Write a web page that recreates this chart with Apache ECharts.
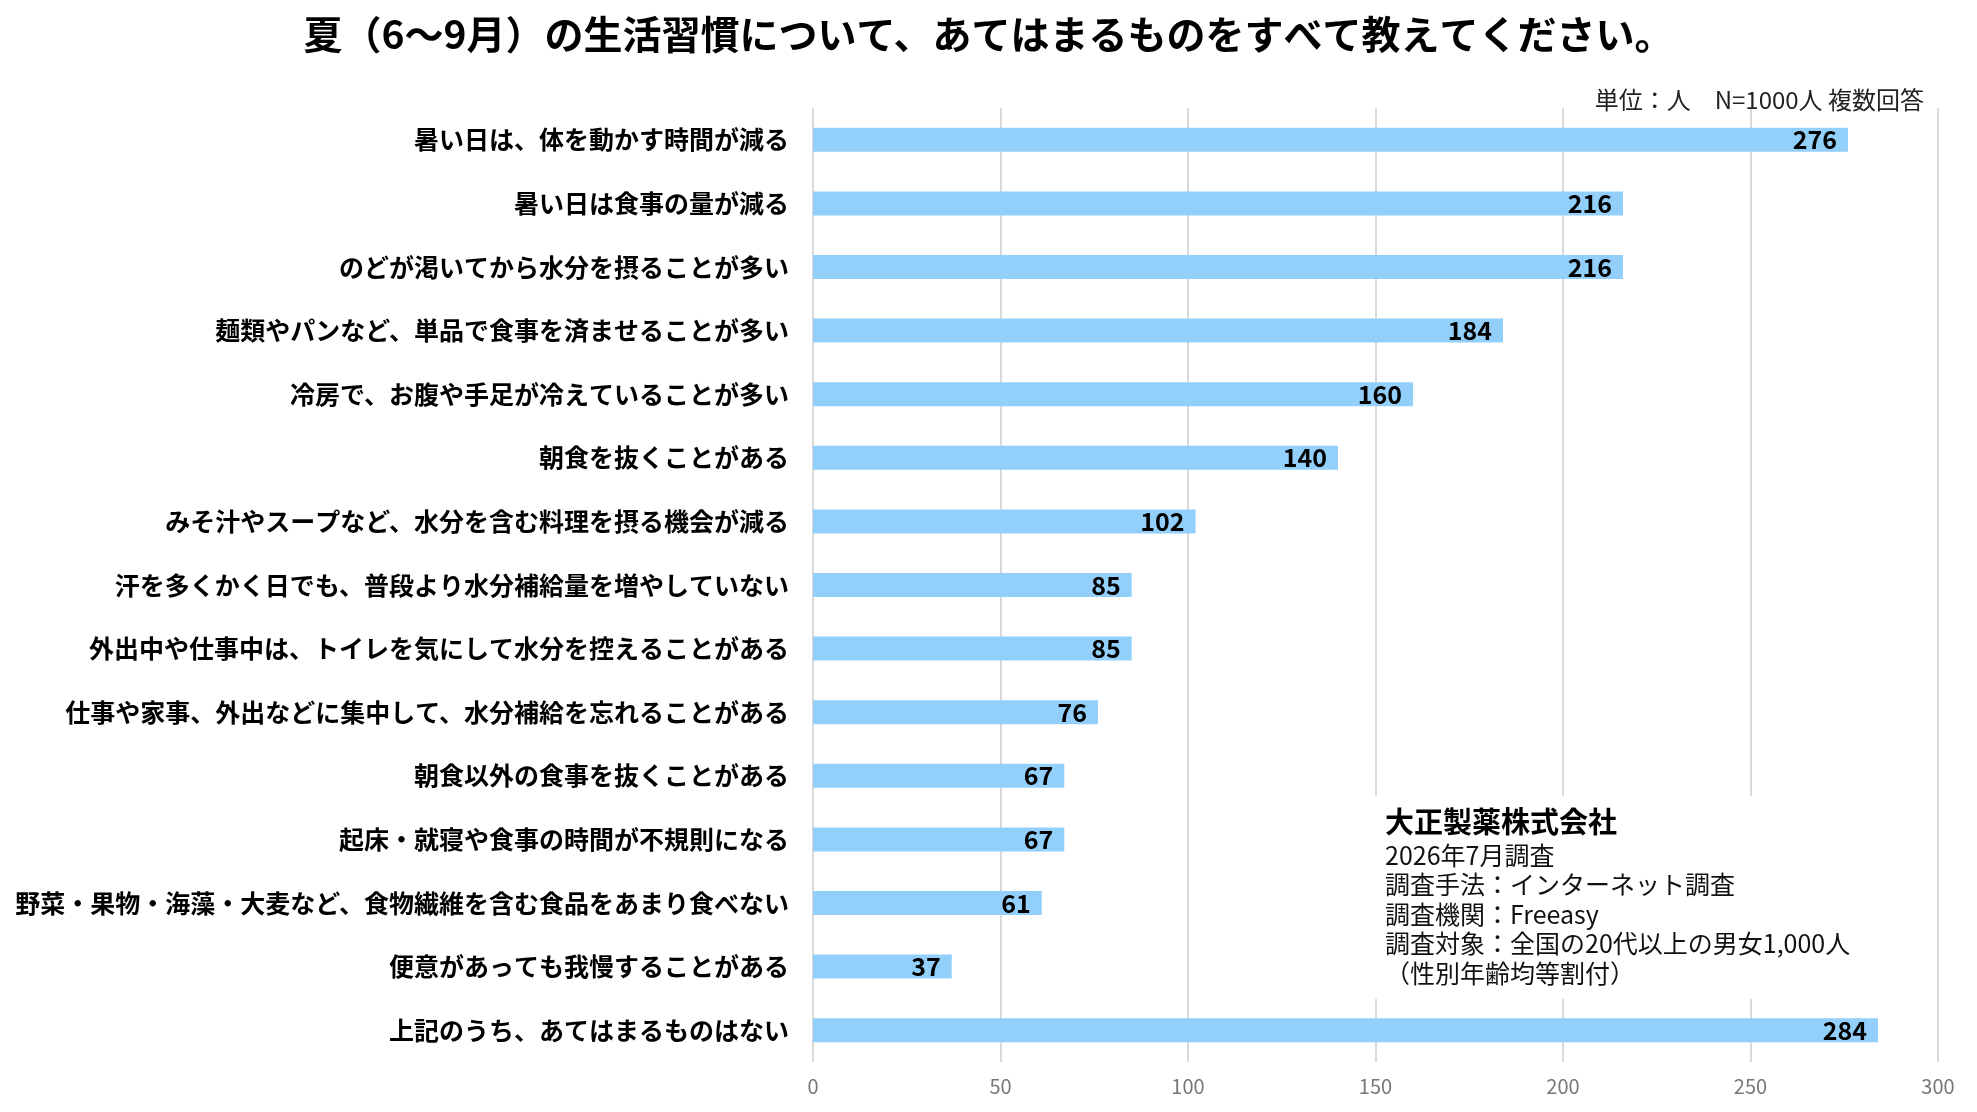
<!DOCTYPE html>
<html>
<head>
<meta charset="utf-8">
<script src="https://cdn.jsdelivr.net/npm/echarts@6/dist/echarts.min.js"></script>
<style>
  html, body { margin: 0; padding: 0; background: #fff; }
  #main { width: 1977px; height: 1112px; }
</style>
</head>
<body>
<div id="main"></div>
<script>
const categories = [
    '暑い日は、体を動かす時間が減る',
    '暑い日は食事の量が減る',
    'のどが渇いてから水分を摂ることが多い',
    '麺類やパンなど、単品で食事を済ませることが多い',
    '冷房で、お腹や手足が冷えていることが多い',
    '朝食を抜くことがある',
    'みそ汁やスープなど、水分を含む料理を摂る機会が減る',
    '汗を多くかく日でも、普段より水分補給量を増やしていない',
    '外出中や仕事中は、トイレを気にして水分を控えることがある',
    '仕事や家事、外出などに集中して、水分補給を忘れることがある',
    '朝食以外の食事を抜くことがある',
    '起床・就寝や食事の時間が不規則になる',
    '野菜・果物・海藻・大麦など、食物繊維を含む食品をあまり食べない',
    '便意があっても我慢することがある',
    '上記のうち、あてはまるものはない'
];
const counts = [276, 216, 216, 184, 160, 140, 102, 85, 85, 76, 67, 67, 61, 37, 284];

const titleText = '夏（6〜9月）の生活習慣について、あてはまるものをすべて教えてください。';
const unitText = '単位：人　N=1000人 複数回答';
const company = '大正製薬株式会社';
const notes = [
    '2026年7月調査',
    '調査手法：インターネット調査',
    '調査機関：Freeasy',
    '調査対象：全国の20代以上の男女1,000人',
    '（性別年齢均等割付）'
];

const FONT = '"Noto Sans CJK JP", "Noto Sans", sans-serif';
const chart = echarts.init(document.getElementById('main'));

// note block: white box hides the grid lines behind the text
const noteItems = [{
    type: 'rect',
    shape: { x: 1362, y: 796, width: 520, height: 203 },
    style: { fill: '#fff' },
    z: 100
}, {
    type: 'text',
    x: 1385, y: 822,
    style: { text: company, font: 'bold 29px ' + FONT, fill: '#000', textVerticalAlign: 'middle' },
    z: 101
}];
notes.forEach((t, i) => {
    noteItems.push({
        type: 'text',
        x: 1385, y: 855 + i * 29.5,
        style: { text: t, font: '25px ' + FONT, fill: '#111', textVerticalAlign: 'middle' },
        z: 101
    });
});

const option = {
    backgroundColor: '#fff',
    textStyle: { fontFamily: FONT },
    title: {
        text: titleText,
        left: 'center',
        top: 10,
        textStyle: { fontSize: 39, fontWeight: 'bold', color: '#000', fontFamily: FONT }
    },
    grid: { left: 813, right: 39, top: 108, bottom: 50 },
    xAxis: {
        type: 'value',
        min: 0,
        max: 300,
        interval: 50,
        axisLine: { show: false },
        axisTick: { show: false },
        axisLabel: { fontSize: 20, color: '#777', margin: 14 },
        splitLine: { lineStyle: { color: '#d9d9d9', width: 2 } }
    },
    yAxis: {
        type: 'category',
        inverse: true,
        data: categories,
        axisLine: { show: false },
        axisTick: { show: false },
        axisLabel: { fontSize: 25, fontWeight: 'bold', color: '#000', margin: 24 }
    },
    series: [{
        type: 'bar',
        data: counts,
        barWidth: 24,
        itemStyle: { color: '#93CFFB' },
        label: {
            show: true,
            position: 'insideRight',
            distance: 11,
            fontSize: 25,
            fontWeight: 'bold',
            color: '#000'
        }
    }],
    graphic: [{
        type: 'text',
        right: 53,
        top: 88,
        style: { text: unitText, font: '24px ' + FONT, fill: '#222' },
        z: 101
    }].concat(noteItems)
};
chart.setOption(option);
</script>
</body>
</html>
